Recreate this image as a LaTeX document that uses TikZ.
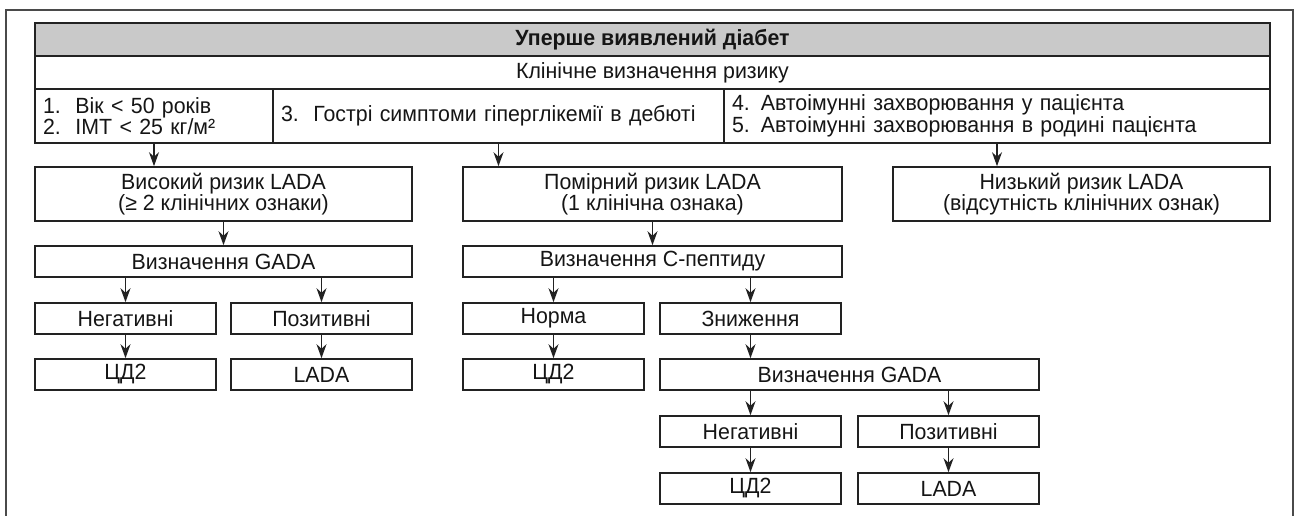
\documentclass[tikz,border=0pt]{standalone}
\usepackage{fontspec}
\setmainfont{Liberation Sans}[FakeStretch=0.97]
\usetikzlibrary{arrows.meta}
\definecolor{ln}{HTML}{222222}
\definecolor{frm}{HTML}{4A4A4A}
\definecolor{hdr}{HTML}{C9C9C9}
\definecolor{txt}{HTML}{151515}
\tikzset{
  box/.style={draw=ln, line width=1.6pt, rectangle, inner sep=0pt, text=txt,
    font=\fontsize{22}{20.5}\selectfont, align=center},
  lcell/.style={box, inner xsep=8pt, align=left},
  arr/.style={draw=ln, line width=1.4pt, -{Stealth[length=14pt,width=10pt,inset=4.5pt]}},
}
% \mybox[opts]{x1}{y1}{x2}{y2}{name}{text}
\newcommand{\mybox}[7][]{\node[box,minimum width={#4-#2},minimum height={#5-#3},#1] (#6) at ({(#2+#4)/2},{(#3+#5)/2}) {#7};}
\begin{document}
\begin{tikzpicture}[x=1pt,y=-1pt]
\useasboundingbox (0,0) rectangle (1299,516);
% outer frame (open at bottom)
\draw[frm, line width=1.6pt] (6,516) -- (6,10) -- (1293,10) -- (1293,516);
% table
\mybox[fill=hdr,font=\fontsize{22}{20.5}\selectfont\bfseries]{35}{23}{1270}{56}{title}{Уперше виявлений діабет}
\mybox{35}{56}{1270}{89}{clin}{Клінічне визначення ризику}
\mybox[lcell,text width={238-16}]{35}{89}{273}{143}{c1}{1.\ \ Вік < 50 років\\2.\ \ ІМТ < 25 кг/м²}
\mybox[lcell,text width={451-16}]{273}{89}{724}{143}{c2}{3.\ \ Гострі симптоми гіперглікемії в дебюті}
\mybox[lcell,text width={546-16}]{724}{89}{1270}{143}{c3}{4. Автоімунні захворювання у пацієнта\\5. Автоімунні захворювання в родині пацієнта}
% risk levels
\mybox{35}{167}{412}{221}{lv1}{Високий ризик LADA\\(≥ 2 клінічних ознаки)}
\mybox{463}{167}{842}{221}{lv2}{Помірний ризик LADA\\(1 клінічна ознака)}
\mybox{893}{167}{1270}{221}{lv3}{Низький ризик LADA\\(відсутність клінічних ознак)}
% row A
\mybox{35}{246}{412}{277}{gada1}{Визначення GADA}
\mybox{463}{246}{842}{277}{cpep}{Визначення С-пептиду}
% row B
\mybox{35}{303}{216}{334}{neg1}{Негативні}
\mybox{231}{303}{412}{334}{pos1}{Позитивні}
\mybox{463}{303}{644}{334}{norm}{Норма}
\mybox{660}{303}{841}{334}{low}{Зниження}
% row C
\mybox{35}{359}{216}{390}{td1}{ЦД2}
\mybox{231}{359}{412}{390}{lada1}{LADA}
\mybox{463}{359}{644}{390}{td2}{ЦД2}
\mybox{660}{359}{1039}{390}{gada2}{Визначення GADA}
% row D
\mybox{660}{416}{841}{447}{neg2}{Негативні}
\mybox{858}{416}{1039}{447}{pos2}{Позитивні}
% row E
\mybox{660}{473}{841}{504}{td3}{ЦД2}
\mybox{858}{473}{1039}{504}{lada2}{LADA}
% arrows
\draw[arr] (c1.south) -- (c1.south |- lv1.north);
\draw[arr] (c2.south) -- (c2.south |- lv2.north);
\draw[arr] (c3.south) -- (c3.south |- lv3.north);
\draw[arr] (lv1.south) -- (gada1.north);
\draw[arr] (lv2.south) -- (cpep.north);
\draw[arr] (gada1.south -| neg1.north) -- (neg1.north);
\draw[arr] (gada1.south -| pos1.north) -- (pos1.north);
\draw[arr] (cpep.south -| norm.north) -- (norm.north);
\draw[arr] (cpep.south -| low.north) -- (low.north);
\draw[arr] (neg1.south) -- (td1.north);
\draw[arr] (pos1.south) -- (lada1.north);
\draw[arr] (norm.south) -- (td2.north);
\draw[arr] (low.south) -- (low.south |- gada2.north);
\draw[arr] (gada2.south -| neg2.north) -- (neg2.north);
\draw[arr] (gada2.south -| pos2.north) -- (pos2.north);
\draw[arr] (neg2.south) -- (td3.north);
\draw[arr] (pos2.south) -- (lada2.north);
\end{tikzpicture}
\end{document}
